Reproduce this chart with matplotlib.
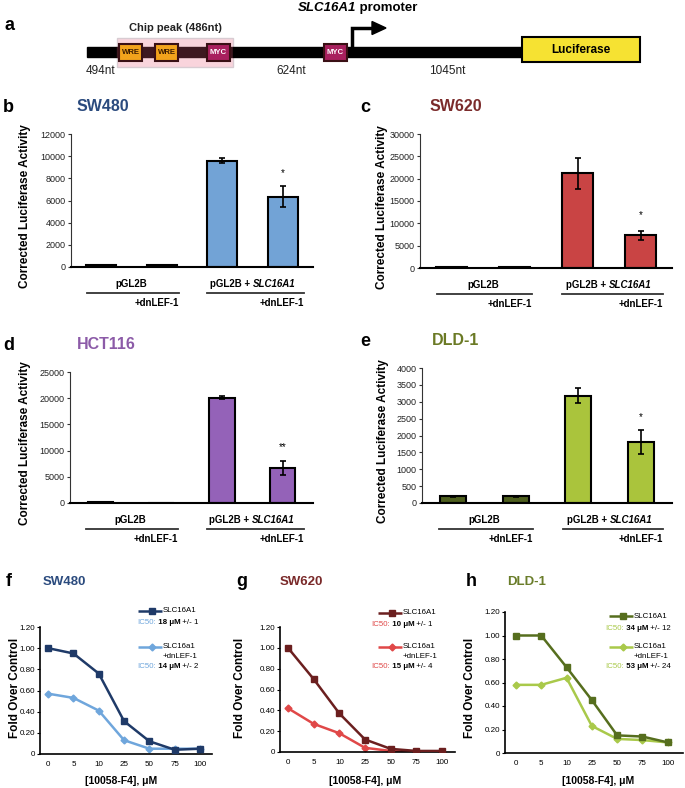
import matplotlib
matplotlib.use('Agg')
import matplotlib.pyplot as plt
import matplotlib.transforms as mtrans
from matplotlib.patches import Rectangle, Polygon
import numpy as np

plt.rcParams['font.family'] = ['Liberation Sans', 'DejaVu Sans']

W, H = 685, 788

# --- luciferase reporter data (b-e) ---
sw480_bar = [200, 150, 9600, 6350]
sw480_err = [0, 0, 250, 950]
sw620_bar = [120, 150, 21200, 7300]
sw620_err = [0, 0, 3500, 1000]
hct116_bar = [120, 80, 20100, 6700]
hct116_err = [0, 0, 300, 1400]
dld1_bar = [200, 200, 3180, 1800]
dld1_err = [15, 15, 220, 350]

# --- 10058-F4 dose response (f-h) ---
doses = ['0', '5', '10', '25', '50', '75', '100']
sw480_slc = [1.00, 0.95, 0.76, 0.31, 0.12, 0.04, 0.05]
sw480_dn = [0.57, 0.53, 0.41, 0.13, 0.05, 0.05, 0.05]
sw620_slc = [1.00, 0.70, 0.37, 0.12, 0.03, 0.01, 0.01]
sw620_dn = [0.42, 0.27, 0.18, 0.04, 0.01, 0.00, 0.00]
dld1_slc = [1.00, 1.00, 0.73, 0.45, 0.15, 0.14, 0.09]
dld1_dn = [0.58, 0.58, 0.64, 0.23, 0.12, 0.11, 0.09]
ic50_text = {'f': ['18 μM', '+/- 1', '14 μM', '+/- 2'],
             'g': ['10 μM', '+/- 1', '15 μM', '+/- 4'],
             'h': ['34 μM', '+/- 12', '53 μM', '+/- 24']}

fig = plt.figure(figsize=(W / 100, H / 100), dpi=100)


def box(l, t, r, b):
    return [l / W, 1 - b / H, (r - l) / W, (b - t) / H]


# overlay in pixel coords for schematic, labels and legends
ov = fig.add_axes([0, 0, 1, 1])
ov.set_xlim(0, W)
ov.set_ylim(H, 0)
ov.axis('off')
ov.set_zorder(10)

# ---------------- panel a: promoter schematic ----------------
ov.text(5, 25, 'a', fontsize=13, fontweight='bold', va='center')
t = ov.text(298, 8, 'SLC16A1', fontsize=9.5, fontweight='bold', style='italic', va='center')
ov.annotate(' promoter', xy=(1, 0.5), xycoords=t, fontsize=9.5, fontweight='bold', va='center')
ov.add_patch(Rectangle((117, 38), 116, 29, facecolor='#f9d4dc', edgecolor='#d8ccd2', lw=1, zorder=1))
ov.add_patch(Rectangle((87, 47), 30, 10, color='black', zorder=2))
ov.add_patch(Rectangle((117, 47), 116, 10, color='#3d1820', zorder=2))
ov.add_patch(Rectangle((233, 47), 522 - 233, 10, color='black', zorder=2))
ov.text(175, 28, 'Chip peak (486nt)', fontsize=8, fontweight='bold', ha='center', va='center', color='#222')
sites = [('WRE', 119, '#f2a31c', '#3a1a00'), ('WRE', 155, '#f2a31c', '#3a1a00'),
         ('MYC', 207, '#a8205e', 'white'), ('MYC', 324, '#a8205e', 'white')]
for name, x0, fc, tc in sites:
    ov.add_patch(Rectangle((x0, 44), 23, 17, facecolor=fc, edgecolor='#3a1015', lw=1.5, zorder=3))
    ov.text(x0 + 11.5, 52.5, name, fontsize=5.6, fontweight='bold', color=tc,
            ha='center', va='center', zorder=4)
for lab, xc in [('494nt', 101), ('624nt', 291), ('1045nt', 447)]:
    ov.text(xc, 71, lab, fontsize=8.5, ha='center', va='center', color='#222')
ov.plot([352, 352, 374], [47, 28, 28], color='black', lw=2.5, solid_joinstyle='miter', zorder=3)
ov.add_patch(Polygon([(372, 21.5), (386, 28), (372, 34.5)], color='black', zorder=3))
ov.add_patch(Rectangle((522, 37), 118, 25, facecolor='#f6e232', edgecolor='black', lw=1.5, zorder=3))
ov.text(581, 49.5, 'Luciferase', fontsize=8.5, fontweight='bold', ha='center', va='center', zorder=4)


# ---------------- panels b-e: bar charts ----------------
def bar_panel(l, t, r, b, vals, errs, colors, ymax, step, width, star, star_y,
              title, tcolor, letter, letter_x, title_x, ylab_x):
    ax = fig.add_axes(box(l, t, r, b))
    x = np.arange(len(vals))
    ax.bar(x, vals, width=width, color=colors, edgecolor='black', linewidth=1.5, zorder=2)
    e = np.array(errs)
    m = e > 0
    ax.errorbar(x[m], np.array(vals)[m], yerr=e[m], fmt='none', ecolor='black',
                elinewidth=1.2, capsize=2.5, capthick=1.2, zorder=3)
    ax.text(3, star_y, star, ha='center', va='center', fontsize=7)
    ax.set_xlim(-0.5, 3.5)
    ax.set_ylim(0, ymax)
    ax.set_yticks(np.arange(0, ymax + 1, step))
    ax.set_xticks([])
    for s in ['top', 'right']:
        ax.spines[s].set_visible(False)
    ax.spines['left'].set_linewidth(0.8)
    ax.spines['left'].set_color('#333')
    ax.spines['bottom'].set_linewidth(1.5)
    ax.tick_params(axis='y', labelsize=6.5, length=2.5, width=0.8, pad=1.5,
                   colors='#333', labelcolor='#222')
    ov.text(letter_x, t - 27, letter, fontsize=13, fontweight='bold', va='center')
    ov.text(title_x, t - 28, title, fontsize=11.5, fontweight='bold', color=tcolor, va='center')
    ov.text(ylab_x, (t + b) / 2 + 6, 'Corrected Luciferase Activity', fontsize=8.5,
            fontweight='bold', rotation=90, ha='center', va='center')
    tr = mtrans.blended_transform_factory(ax.transData, ov.transData)
    ov.text(0.5, b + 17, 'pGL2B', transform=tr, fontsize=7, fontweight='bold', ha='center', va='center')
    p1 = ov.text(2.5, b + 17, 'pGL2B + ', transform=tr, fontsize=7, fontweight='bold',
                 ha='right', va='center')
    ov.annotate('SLC16A1', xy=(1, 0.5), xycoords=p1, fontsize=7, fontweight='bold',
                style='italic', va='center')
    for x0, x1 in [(-0.23, 1.28), (1.75, 3.35)]:
        ov.plot([x0, x1], [b + 26, b + 26], transform=tr, color='#333', lw=1.3)
        ov.text(x1, b + 36, '+dnLEF-1', transform=tr, fontsize=7, fontweight='bold',
                ha='right', va='center')
    return ax


bar_panel(71, 134, 313, 267, sw480_bar, sw480_err, ['#72a3d6'] * 4, 12000, 2000, 0.5,
          '*', 8500, 'SW480', '#2b4b7e', 'b', 3, 77, 25)
bar_panel(420, 134, 672, 268, sw620_bar, sw620_err, ['#c94444'] * 4, 30000, 5000, 0.5,
          '*', 11800, 'SW620', '#7b2b2b', 'c', 360, 430, 382)
bar_panel(70, 372, 313, 503, hct116_bar, hct116_err, ['#9462b8'] * 4, 25000, 5000, 0.42,
          '**', 10700, 'HCT116', '#8c5ba8', 'd', 3, 77, 25)
bar_panel(422, 368, 672, 503, dld1_bar, dld1_err, ['#4e5f1e', '#4e5f1e', '#aac43c', '#aac43c'],
          4000, 500, 0.42, '*', 2550, 'DLD-1', '#6b7a25', 'e', 360, 432, 383)


# ---------------- panels f-h: dose response ----------------
def dose_panel(l, t, r, b, xlim, slc, dn, dark, light, title, tcolor, letter, letter_x,
               title_x, ylab_x, xlab_x, leg_x, ic_x, leg_y, ics):
    ax = fig.add_axes(box(l, t, r, b))
    x = np.arange(len(doses))
    ax.plot(x, dn, color=light, lw=1.8, marker='D', ms=3.5, zorder=2)
    ax.plot(x, slc, color=dark, lw=1.8, marker='s', ms=5, zorder=3)
    ax.set_xlim(*xlim)
    ax.set_ylim(0, 1.2)
    ax.set_yticks(np.arange(0, 1.21, 0.2))
    ax.set_yticklabels(['0', '0.20', '0.40', '0.60', '0.80', '1.00', '1.20'])
    ax.set_xticks(x)
    ax.set_xticklabels(doses)
    for s in ['top', 'right']:
        ax.spines[s].set_visible(False)
    ax.spines['left'].set_linewidth(1.2)
    ax.spines['bottom'].set_linewidth(1.2)
    ax.tick_params(axis='y', labelsize=5.8, length=2, width=0.8, pad=1.5)
    ax.tick_params(axis='x', labelsize=5.8, length=0, pad=5)
    ov.text(letter_x, 582, letter, fontsize=13, fontweight='bold', va='center')
    ov.text(title_x, 582, title, fontsize=9.5, fontweight='bold', color=tcolor, va='center')
    ov.text(ylab_x, 688, 'Fold Over Control', fontsize=8.5, fontweight='bold',
            rotation=90, ha='center', va='center')
    ov.text(xlab_x, 781, '[10058-F4], μM', fontsize=7.5, fontweight='bold', ha='center', va='center')
    # legend
    y1 = leg_y
    y2 = 647
    fs = 5.7
    ov.plot([leg_x, leg_x + 24], [y1, y1], color=dark, lw=1.8, solid_capstyle='butt')
    ov.plot([leg_x + 14], [y1], color=dark, marker='s', ms=5)
    ov.plot([leg_x, leg_x + 24], [y2, y2], color=light, lw=1.8, solid_capstyle='butt')
    ov.plot([leg_x + 14], [y2], color=light, marker='D', ms=3.5)
    ov.text(leg_x + 25, y1, 'SLC16A1', fontsize=fs, va='center')
    ov.text(leg_x + 25, y2, 'SLC16a1', fontsize=fs, va='center')
    ov.text(leg_x + 25, y2 + 10, '+dnLEF-1', fontsize=fs, va='center')
    for yy, val, pm in [(y1 + 12, ics[0], ics[1]), (y2 + 20, ics[2], ics[3])]:
        a = ov.text(ic_x, yy, 'IC50:', fontsize=fs, color=light, va='center')
        c = ov.annotate(' ' + val, xy=(1, 0.5), xycoords=a, fontsize=fs, fontweight='bold',
                        va='center')
        ov.annotate(' ' + pm, xy=(1, 0.5), xycoords=c, fontsize=fs, va='center')
    return ax


dose_panel(40, 627, 212, 754, (-0.32, 6.47), sw480_slc, sw480_dn, '#1f3a68', '#6fa6dc',
           'SW480', '#2b4b7e', 'f', 6, 43, 15, 121, 138, 137, 611, ic50_text['f'])
dose_panel(280, 627, 455, 752, (-0.31, 6.5), sw620_slc, sw620_dn, '#6b1f1f', '#e04848',
           'SW620', '#7a2a2a', 'g', 236, 280, 240, 365, 378, 371, 613, ic50_text['g'])
dose_panel(505, 612, 683, 753, (-0.43, 6.6), dld1_slc, dld1_dn, '#566e1e', '#a9c94a',
           'DLD-1', '#6a7d2a', 'h', 466, 507, 470, 598, 609, 605, 616, ic50_text['h'])

fig.savefig('out.png', dpi=100)
